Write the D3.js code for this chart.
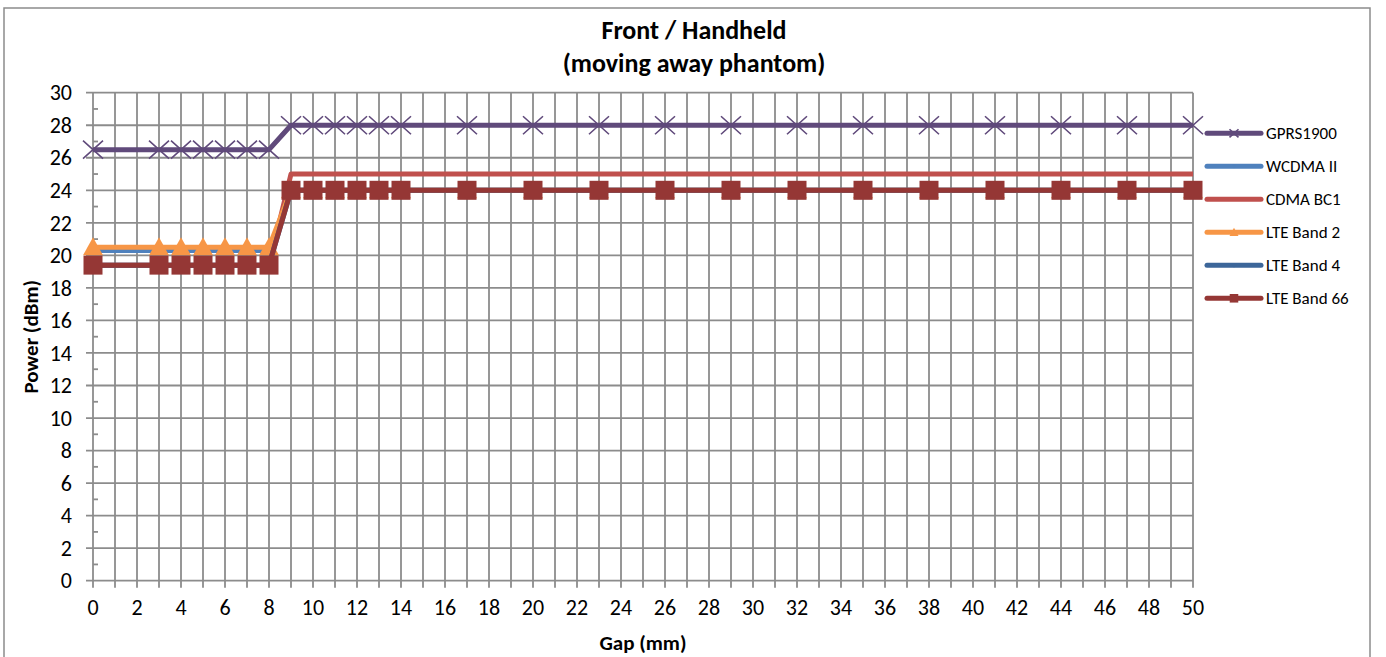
<!DOCTYPE html>
<html>
<head>
<meta charset="utf-8">
<script src="https://cdn.jsdelivr.net/npm/d3@7"></script>
<style>
  body { margin: 0; background: #fff; }
  svg { font-family: Carlito, Lato, "Open Sans", sans-serif; }
</style>
</head>
<body>
<div id="chart"></div>
<script>
// gap in mm
var gaps = [0, 3, 4, 5, 6, 7, 8, 9, 10, 11, 12, 13, 14, 17, 20, 23, 26, 29, 32, 35, 38, 41, 44, 47, 50];

var gprs1900 = [26.5, 26.5, 26.5, 26.5, 26.5, 26.5, 26.5, 28, 28, 28, 28, 28, 28, 28, 28, 28, 28, 28, 28, 28, 28, 28, 28, 28, 28];
var wcdma2   = [20.3, 20.3, 20.3, 20.3, 20.3, 20.3, 20.3, 24, 24, 24, 24, 24, 24, 24, 24, 24, 24, 24, 24, 24, 24, 24, 24, 24, 24];
var cdmaBc1  = [19.4, 19.4, 19.4, 19.4, 19.4, 19.4, 19.4, 25, 25, 25, 25, 25, 25, 25, 25, 25, 25, 25, 25, 25, 25, 25, 25, 25, 25];
var lteB2    = [20.5, 20.5, 20.5, 20.5, 20.5, 20.5, 20.5, 24, 24, 24, 24, 24, 24, 24, 24, 24, 24, 24, 24, 24, 24, 24, 24, 24, 24];
var lteB4    = [19.4, 19.4, 19.4, 19.4, 19.4, 19.4, 19.4, 24, 24, 24, 24, 24, 24, 24, 24, 24, 24, 24, 24, 24, 24, 24, 24, 24, 24];
var lteB66   = [19.4, 19.4, 19.4, 19.4, 19.4, 19.4, 19.4, 24, 24, 24, 24, 24, 24, 24, 24, 24, 24, 24, 24, 24, 24, 24, 24, 24, 24];

var seriesNames  = ["GPRS1900", "WCDMA II", "CDMA BC1", "LTE Band 2", "LTE Band 4", "LTE Band 66"];
var seriesValues = [gprs1900, wcdma2, cdmaBc1, lteB2, lteB4, lteB66];
var seriesColors = ["#604a7b", "#4f81bd", "#c0504d", "#f79646", "#3c6699", "#953735"];
var seriesMarkers = ["x", "plus", "none", "triangle", "diamond", "square"];

var xTicks = d3.range(0, 51, 2);
var yTicks = d3.range(0, 31, 2);

var W = 1386, H = 657;
var margins = { left: 93, top: 92.7, right: W - 1193, bottom: H - 580.7 };

var svg = d3.select("#chart").append("svg")
    .attr("width", W)
    .attr("height", H);

// outer frame
svg.append("rect")
    .attr("x", 4).attr("y", 8)
    .attr("width", 1366).attr("height", 660)
    .attr("fill", "#fff")
    .attr("stroke", "#8c8c8c")
    .attr("stroke-width", 1.5);

var x = d3.scaleLinear().domain([0, 50]).range([margins.left, W - margins.right]);
var y = d3.scaleLinear().domain([0, 30]).range([H - margins.bottom, margins.top]);

var grid = svg.append("g").attr("class", "grid")
    .attr("stroke", "#8c8c8c")
    .attr("stroke-width", 1.8);

// vertical gridlines every 1 mm
grid.selectAll("line.v")
    .data(d3.range(0, 51, 1))
  .enter().append("line")
    .attr("class", "v")
    .attr("x1", function(d){ return x(d); })
    .attr("x2", function(d){ return x(d); })
    .attr("y1", y(30))
    .attr("y2", y(0) + 7);

// horizontal gridlines every 2 dBm
grid.selectAll("line.h")
    .data(yTicks)
  .enter().append("line")
    .attr("class", "h")
    .attr("x1", x(0) - 7)
    .attr("x2", x(50))
    .attr("y1", function(d){ return y(d); })
    .attr("y2", function(d){ return y(d); });

// minor ticks on y axis
grid.selectAll("line.m")
    .data(d3.range(1, 30, 2))
  .enter().append("line")
    .attr("class", "m")
    .attr("x1", x(0))
    .attr("x2", x(0) + 5)
    .attr("y1", function(d){ return y(d); })
    .attr("y2", function(d){ return y(d); });

// tick labels
svg.append("g").selectAll("text")
    .data(yTicks)
  .enter().append("text")
    .attr("x", x(0) - 21)
    .attr("y", function(d){ return y(d); })
    .attr("dy", "0.35em")
    .attr("text-anchor", "end")
    .style("font-size", "22px")
    .text(function(d){ return d; });

svg.append("g").selectAll("text")
    .data(xTicks)
  .enter().append("text")
    .attr("x", function(d){ return x(d); })
    .attr("y", 607)
    .attr("dy", "0.35em")
    .attr("text-anchor", "middle")
    .style("font-size", "22px")
    .text(function(d){ return d; });

// titles
svg.append("text")
    .attr("x", 694).attr("y", 39)
    .attr("text-anchor", "middle")
    .style("font-size", "26px").style("font-weight", "bold")
    .text("Front / Handheld");
svg.append("text")
    .attr("x", 694).attr("y", 72)
    .attr("text-anchor", "middle")
    .style("font-size", "26px").style("font-weight", "bold")
    .text("(moving away phantom)");

svg.append("text")
    .attr("x", 643).attr("y", 650)
    .attr("text-anchor", "middle")
    .style("font-size", "21px").style("font-weight", "bold")
    .text("Gap (mm)");

svg.append("text")
    .attr("transform", "translate(38," + ((y(0) + y(30)) / 2) + ") rotate(-90)")
    .attr("text-anchor", "middle")
    .style("font-size", "21px").style("font-weight", "bold")
    .text("Power (dBm)");

function drawMarker(g, type, color, scale){
    var s = scale || 1;
    if (type === "x") {
        g.append("path")
            .attr("d", "M-10,-9L10,9M-10,9L10,-9")
            .attr("transform", "scale(" + s + ")")
            .attr("stroke", color).attr("stroke-width", 1.6 / s).attr("fill", "none");
    } else if (type === "plus") {
        g.append("path")
            .attr("d", "M0,-4L0,4M-4,0L4,0")
            .attr("transform", "scale(" + s + ")")
            .attr("stroke", color).attr("stroke-width", 1.5).attr("fill", "none");
    } else if (type === "triangle") {
        g.append("path")
            .attr("d", "M0,-10L10,8L-10,8Z")
            .attr("transform", "scale(" + s + ")")
            .attr("fill", color);
    } else if (type === "diamond") {
        g.append("path")
            .attr("d", "M0,-5L5,0L0,5L-5,0Z")
            .attr("transform", "scale(" + s + ")")
            .attr("fill", color);
    } else if (type === "square") {
        g.append("path")
            .attr("d", "M-9.5,-9.5H9.5V9.5H-9.5Z")
            .attr("transform", "scale(" + s + ")")
            .attr("fill", color);
    }
}

var line = d3.line()
    .x(function(d){ return x(d[0]); })
    .y(function(d){ return y(d[1]); });

var plot = svg.append("g").attr("class", "series");

seriesNames.forEach(function(name, i){
    var pts = gaps.map(function(g, j){ return [g, seriesValues[i][j]]; });
    var sg = plot.append("g");
    sg.append("path")
        .datum(pts)
        .attr("d", line)
        .attr("fill", "none")
        .attr("stroke", seriesColors[i])
        .attr("stroke-width", 5)
        .attr("stroke-linejoin", "round");
    sg.selectAll("g.mk")
        .data(pts)
      .enter().append("g")
        .attr("class", "mk")
        .attr("transform", function(d){ return "translate(" + x(d[0]) + "," + y(d[1]) + ")"; })
        .each(function(){ drawMarker(d3.select(this), seriesMarkers[i], seriesColors[i]); });
});

// legend
var legend = svg.append("g").attr("class", "legend");
seriesNames.forEach(function(name, i){
    var ly = 133.3 + i * 33;
    var lg = legend.append("g").attr("transform", "translate(0," + ly + ")");
    lg.append("line")
        .attr("x1", 1207).attr("x2", 1261)
        .attr("stroke", seriesColors[i])
        .attr("stroke-width", 5)
        .attr("stroke-linecap", "round");
    var mg = lg.append("g").attr("transform", "translate(1234,0)");
    drawMarker(mg, seriesMarkers[i], seriesColors[i], 0.45);
    lg.append("text")
        .attr("x", 1266)
        .attr("dy", "0.35em")
        .style("font-size", "17px")
        .text(name);
});
</script>
</body>
</html>
